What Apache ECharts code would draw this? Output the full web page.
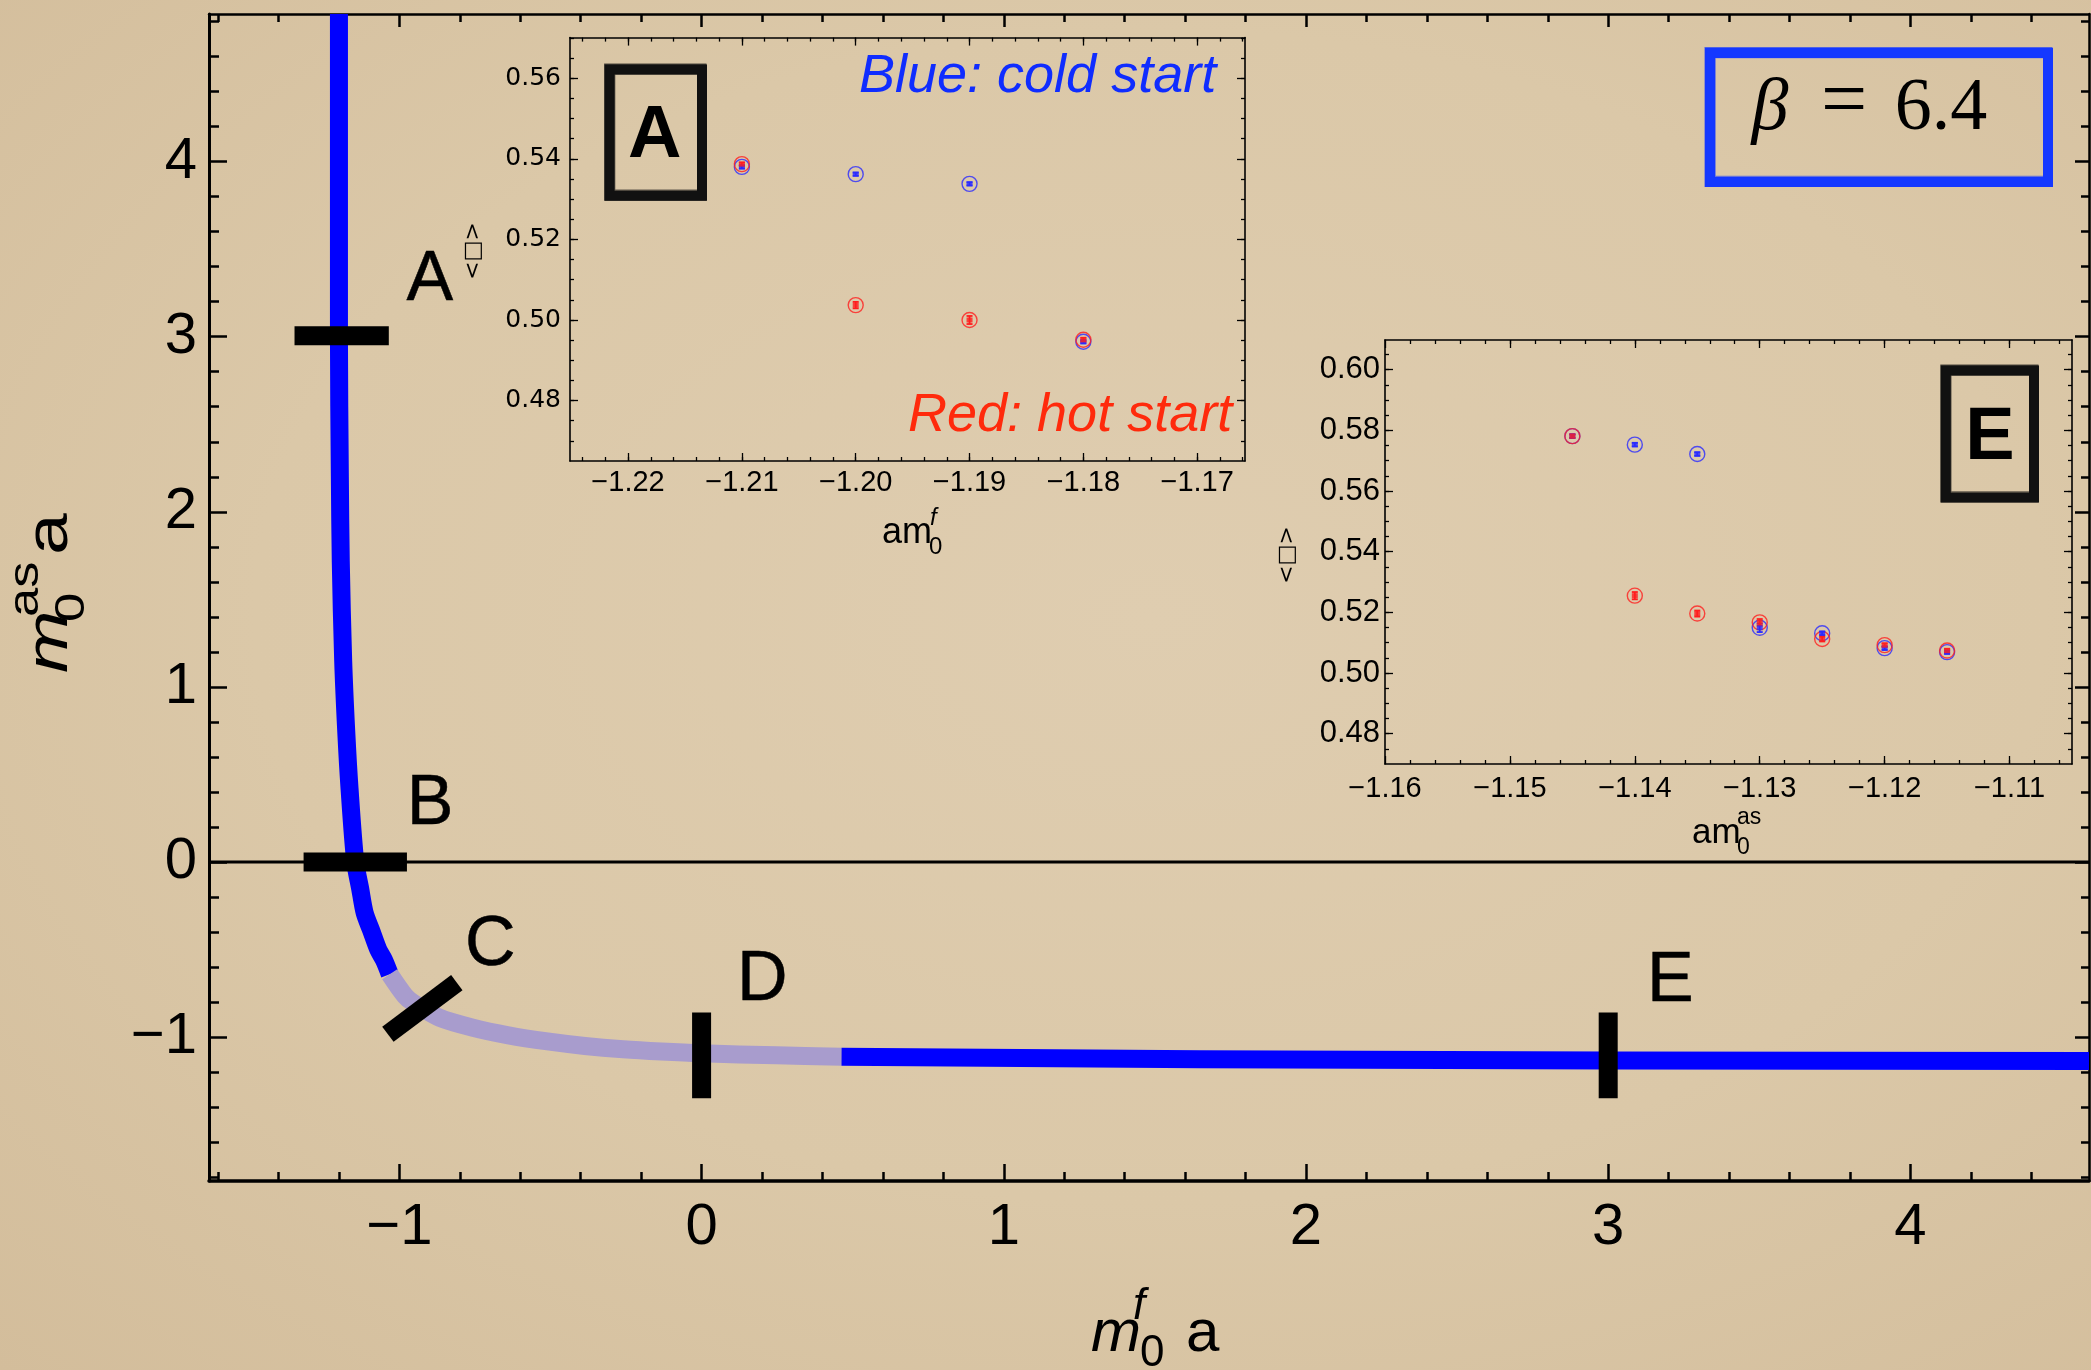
<!DOCTYPE html>
<html>
<head>
<meta charset="utf-8">
<title>Phase diagram beta 6.4</title>
<script src="https://cdn.jsdelivr.net/npm/echarts@6/dist/echarts.min.js"></script>
<style>
html,body{margin:0;padding:0;overflow:hidden;}
#chart{width:2091px;height:1370px;background:radial-gradient(ellipse at 55% 45%, #dfcdb0 0%, #dbc8a8 55%, #d3bd9b 100%);}
</style>
</head>
<body>
<div id="chart"></div>
<script>
// ---------------- main plot data ----------------
const mainXTicks = [-1, 0, 1, 2, 3, 4];
const mainYTicks = [-1, 0, 1, 2, 3, 4];
const mainXRange = [-1.63, 4.591];
const mainYRange = [-1.822, 4.843];

const curveUpper = [[-1.200, 4.843], [-1.200, 4.0], [-1.200, 3.0], [-1.197, 2.2], [-1.194, 1.72], [-1.186, 1.15],
  [-1.176, 0.75], [-1.165, 0.42], [-1.146, 0.0], [-1.130, -0.15], [-1.115, -0.29], [-1.094, -0.388],
  [-1.070, -0.50], [-1.051, -0.56], [-1.032, -0.641]];
const curveMiddle = [[-1.032, -0.641], [-0.981, -0.765], [-0.952, -0.807], [-0.868, -0.889], [-0.760, -0.945],
  [-0.639, -0.990], [-0.510, -1.025], [-0.386, -1.051], [-0.260, -1.070], [-0.133, -1.083], [0.0, -1.093],
  [0.248, -1.104], [0.463, -1.112]];
const curveLower = [[0.463, -1.112], [1.649, -1.127], [3.0, -1.134], [4.591, -1.137]];
const zeroLine = [[-1.63, 0], [4.591, 0]];

const barA = [[-1.347, 3.006], [-1.035, 3.006]];
const barB = [[-1.317, 0.0], [-0.975, 0.0]];
const barC = [[-1.038, -0.984], [-0.810, -0.689]];
const barD = [[0.0, -0.86], [0.0, -1.35]];
const barE = [[3.0, -0.86], [3.0, -1.35]];
const pointNames = ['A', 'B', 'C', 'D', 'E'];
const pointLabelAt = [[-0.899, 3.321], [-0.898, 0.327], [-0.699, -0.479], [0.201, -0.678], [3.206, -0.684]];

// ---------------- inset A (m0^as = 3) ----------------
const insetAXTicks = [-1.22, -1.21, -1.20, -1.19, -1.18, -1.17];
const insetAYTicks = [0.48, 0.50, 0.52, 0.54, 0.56];
const insetAXRange = [-1.2251, -1.1658];
const insetAYRange = [0.465, 0.5701];
const insetAX = [-1.21, -1.20, -1.19, -1.18];
const insetACold = [0.5380, 0.5362, 0.5338, 0.4946];
const insetAColdErr = [0.0004, 0.0004, 0.0004, 0.0004];
const insetAHot = [0.5387, 0.5037, 0.5000, 0.4951];
const insetAHotErr = [0.0004, 0.0008, 0.0010, 0.0005];

// ---------------- inset E (m0^f = 3) ----------------
const insetEXTicks = [-1.16, -1.15, -1.14, -1.13, -1.12, -1.11];
const insetEYTicks = [0.48, 0.50, 0.52, 0.54, 0.56, 0.58, 0.60];
const insetEXRange = [-1.16, -1.105];
const insetEYRange = [0.47, 0.6098];
const insetEX = [-1.145, -1.14, -1.135, -1.13, -1.125, -1.12, -1.115];
const insetECold = [0.5781, 0.5753, 0.5722, 0.5149, 0.5131, 0.5082, 0.5069];
const insetEColdErr = [0.0006, 0.0006, 0.0006, 0.0014, 0.0006, 0.0006, 0.0006];
const insetEHot = [0.5781, 0.5255, 0.5196, 0.5167, 0.5112, 0.5092, 0.5074];
const insetEHotErr = [0.0006, 0.0012, 0.0010, 0.0011, 0.0008, 0.0006, 0.0006];

// ---------------- helpers ----------------
const SANS = '"Liberation Sans", Arial, Helvetica, sans-serif';
const SERIF = '"Liberation Serif", "DejaVu Serif", serif';
const BLUE = '#0000ff';
const LAV = '#a89ccd';
const COLD = '#2a2aff';
const HOT = '#ff1e1e';

function steps(range, step) {
  const out = [];
  const n0 = Math.ceil(range[0] / step - 1e-9), n1 = Math.floor(range[1] / step + 1e-9);
  for (let n = n0; n <= n1; n++) {
    const v = +(n * step).toFixed(6);
    if (v > range[0] + 1e-9 && v < range[1] - 1e-9) out.push(v);
  }
  return out;
}
const mainFmt = v => (v < 0 ? '\u2212' : '') + Math.abs(v);
const insetFmt = v => (v < 0 ? '\u2212' : '') + Math.abs(v).toFixed(2);

function frameAxes(dim, gridIndex, range, majors, minors, o) {
  const pos = dim === 'x' ? ['bottom', 'top'] : ['left', 'right'];
  const base = { type: 'value', gridIndex, min: range[0], max: range[1], splitLine: { show: false },
    axisPointer: { show: false }, silent: true };
  const tick = (len, vals) => ({ show: true, inside: true, length: len, customValues: vals,
    lineStyle: { color: '#000', width: o.tickW } });
  const line = w => ({ show: true, onZero: false, lineStyle: { color: '#000', width: w } });
  const noLine = { show: false, onZero: false };
  return [
    Object.assign({}, base, { position: pos[0], axisLine: line(o.lw[0]), axisTick: tick(o.major[0], majors),
      axisLabel: Object.assign({ show: true, customValues: majors, color: '#000' }, o.label) }),
    Object.assign({}, base, { position: pos[0], axisLine: noLine, axisTick: tick(o.minor[0], minors), axisLabel: { show: false } }),
    Object.assign({}, base, { position: pos[1], axisLine: line(o.lw[1]), axisTick: tick(o.major[1], majors), axisLabel: { show: false } }),
    Object.assign({}, base, { position: pos[1], axisLine: noLine, axisTick: tick(o.minor[1], minors), axisLabel: { show: false } })
  ];
}

function curve(data, color, smooth) {
  return { type: 'line', xAxisIndex: 0, yAxisIndex: 0, data, symbol: 'none', smooth: smooth,
    lineStyle: { color, width: 18, cap: 'butt', join: 'round' }, silent: true, z: 3 };
}
function bar(data) {
  return { type: 'line', xAxisIndex: 0, yAxisIndex: 0, data, symbol: 'none',
    lineStyle: { color: '#000', width: 19, cap: 'butt' }, silent: true, z: 4 };
}
function insetSeries(g, xs, ys, errs, color) {
  const pts = xs.map((x, i) => [x, ys[i]]);
  const errPts = xs.map((x, i) => [x, ys[i], errs[i]]);
  return [
    { type: 'scatter', xAxisIndex: 4 * g, yAxisIndex: 4 * g, data: pts, symbol: 'circle', symbolSize: 15,
      itemStyle: { color: 'rgba(0,0,0,0)', borderColor: color, borderWidth: 1.4 }, silent: true, z: 3 },
    { type: 'custom', xAxisIndex: 4 * g, yAxisIndex: 4 * g, data: errPts, silent: true, z: 4,
      renderItem: function (params, api) {
        const x = api.value(0), y = api.value(1), e = api.value(2);
        const t = api.coord([x, y + e]), b = api.coord([x, y - e]);
        const st = { stroke: color, lineWidth: 1.8 };
        return { type: 'group', children: [
          { type: 'line', shape: { x1: t[0], y1: t[1], x2: b[0], y2: b[1] }, style: st },
          { type: 'line', shape: { x1: t[0] - 3, y1: t[1], x2: t[0] + 3, y2: t[1] }, style: st },
          { type: 'line', shape: { x1: b[0] - 3, y1: b[1], x2: b[0] + 3, y2: b[1] }, style: st }
        ] };
      } },
    { type: 'scatter', xAxisIndex: 4 * g, yAxisIndex: 4 * g, data: pts, symbol: 'rect', symbolSize: [6, 5],
      itemStyle: { color }, silent: true, z: 5 }
  ];
}

// text helper: x = left edge (or per align), baseline y
function txt(text, x, baseline, size, extra) {
  return Object.assign({ type: 'text', x: x, y: baseline - 0.35 * size, silent: true,
    style: Object.assign({ text, fontSize: size, fontFamily: SANS, fill: '#000', align: 'left', verticalAlign: 'middle' },
      extra || {}) });
}
function roughBox(x, y, w, h, color, lw) {
  return [
    { type: 'rect', shape: { x, y, width: w, height: h }, style: { fill: 'none', stroke: color, lineWidth: lw }, silent: true },
    { type: 'rect', shape: { x: x - lw * 0.45, y: y - lw * 0.5, width: w + lw * 0.8, height: h + lw * 0.9 },
      style: { fill: 'none', stroke: color, lineWidth: 2, opacity: 0.7 }, silent: true },
    { type: 'rect', shape: { x: x + lw * 0.5, y: y + lw * 0.45, width: w - lw * 0.9, height: h - lw * 1.0 },
      style: { fill: 'none', stroke: color, lineWidth: 1.5, opacity: 0.6 }, silent: true }
  ];
}

// ---------------- axes ----------------
const mainOpts = { lw: [3.5, 2.5], tickW: 2.5, major: [17, 13], minor: [9, 8] };
const xAxes = [].concat(
  frameAxes('x', 0, mainXRange, mainXTicks, steps(mainXRange, 0.2),
    Object.assign({}, mainOpts, { label: { fontSize: 58, fontFamily: SANS, margin: 18, formatter: mainFmt } })),
  frameAxes('x', 1, insetAXRange, insetAXTicks, steps(insetAXRange, 0.002),
    { lw: [1.6, 1.6], tickW: 1.3, major: [8, 8], minor: [4, 4], label: { fontSize: 29, fontFamily: SANS, margin: 7, formatter: insetFmt } }),
  frameAxes('x', 2, insetEXRange, insetEXTicks, steps(insetEXRange, 0.002),
    { lw: [1.6, 1.6], tickW: 1.3, major: [8, 8], minor: [4, 4], label: { fontSize: 29, fontFamily: SANS, margin: 10, formatter: insetFmt } })
);
const yAxes = [].concat(
  frameAxes('y', 0, mainYRange, mainYTicks, steps(mainYRange, 0.2),
    Object.assign({}, mainOpts, { lw: [3, 2.5], major: [18, 14], minor: [10, 8], label: { fontSize: 58, fontFamily: SANS, margin: 12, formatter: mainFmt } })),
  frameAxes('y', 1, insetAYRange, insetAYTicks, steps(insetAYRange, 0.005),
    { lw: [1.6, 1.6], tickW: 1.3, major: [8, 8], minor: [4, 4], label: { fontSize: 25, fontFamily: '"DejaVu Sans", sans-serif', margin: 9, formatter: insetFmt } }),
  frameAxes('y', 2, insetEYRange, insetEYTicks, steps(insetEYRange, 0.005),
    { lw: [1.6, 1.6], tickW: 1.3, major: [8, 8], minor: [4, 4], label: { fontSize: 31, fontFamily: SANS, margin: 5, formatter: insetFmt } })
);

// ---------------- series ----------------
const series = [
  { type: 'line', xAxisIndex: 0, yAxisIndex: 0, data: zeroLine, symbol: 'none', lineStyle: { color: '#000', width: 3 }, silent: true, z: 2 },
  curve(curveUpper, BLUE, 0.3),
  curve(curveMiddle, LAV, 0.3),
  curve(curveLower, BLUE, false),
  bar(barA), bar(barB), bar(barC), bar(barD), bar(barE),
  { type: 'scatter', xAxisIndex: 0, yAxisIndex: 0, symbolSize: 1, itemStyle: { color: 'rgba(0,0,0,0)' }, silent: true, z: 6,
    data: pointLabelAt.map((p, i) => ({ name: pointNames[i], value: p })),
    label: { show: true, position: 'inside', formatter: '{b}', fontSize: 70, fontFamily: SANS, color: '#000',
      textBorderColor: '#000', textBorderWidth: 0.5, opacity: 1 } }
].concat(
  insetSeries(1, insetAX, insetACold, insetAColdErr, COLD),
  insetSeries(1, insetAX, insetAHot, insetAHotErr, HOT),
  insetSeries(2, insetEX, insetECold, insetEColdErr, COLD),
  insetSeries(2, insetEX, insetEHot, insetEHotErr, HOT)
);

// ---------------- annotations ----------------
const graphics = [].concat(
  // main x-axis name  m_0^f a
  [txt('m', 1091, 1355, 60, { fontStyle: 'italic' }),
   txt('f', 1133, 1322, 44, { fontStyle: 'italic' }),
   txt('0', 1140, 1369, 44),
   txt('a', 1186, 1355, 60)],
  // main y-axis name  m_0^as a (rotated)
  [{ type: 'group', x: 71.7, y: 673, rotation: Math.PI / 2, scaleX: 1.25, silent: true, children: [
     txt('m', 0, 0, 60, { fontStyle: 'italic' }),
     txt('0', 40.8, 15, 42),
     txt('as', 44.8, -31, 42),
     txt('a', 94.4, 0, 60)
  ] }],
  // inset A labels
  roughBox(609.6, 69.5, 92.4, 126.2, '#111', 10),
  [txt('A', 654.6, 162.5, 74, { fontWeight: 'bold', align: 'center' }),
   txt('Blue: cold start', 859, 95.5, 54, { fontStyle: 'italic', fill: '#0f2cff' }),
   txt('Red: hot start', 908, 435, 54, { fontStyle: 'italic', fill: '#ff2a0c' }),
   txt('am', 882, 545.5, 36),
   txt('f', 930, 527, 24, { fontStyle: 'italic' }),
   txt('0', 929, 556, 24),
   { type: 'text', x: 473, y: 251, rotation: Math.PI / 2, silent: true,
     style: { text: '<\u25A1>', fontSize: 22, fontFamily: '"DejaVu Sans", sans-serif', fill: '#000', align: 'center', verticalAlign: 'middle' } }],
  // inset E labels
  roughBox(1945.8, 370.5, 88.2, 126.9, '#111', 10),
  [txt('E', 1990, 464.5, 74, { fontWeight: 'bold', align: 'center' }),
   txt('am', 1692, 845.6, 35),
   txt('as', 1737, 825.5, 23),
   txt('0', 1737, 856, 23),
   { type: 'text', x: 1287, y: 555, rotation: Math.PI / 2, silent: true,
     style: { text: '<\u25A1>', fontSize: 22, fontFamily: '"DejaVu Sans", sans-serif', fill: '#000', align: 'center', verticalAlign: 'middle' } }],
  // beta box
  roughBox(1710, 53, 338, 129, '#1438ff', 10),
  [txt('\u03B2', 1770, 135, 74, { fontStyle: 'italic', fontFamily: SERIF, align: 'center' }),
   txt('=', 1844, 133, 82, { fontFamily: SERIF, align: 'center' }),
   txt('6.4', 1941, 135, 74, { fontFamily: SERIF, align: 'center' })]
);

const chart = echarts.init(document.getElementById('chart'), null, { renderer: 'canvas' });
chart.setOption({
  backgroundColor: 'transparent',
  animation: false,
  grid: [
    { left: 209, top: 14, width: 1880, height: 1167 },
    { left: 570, top: 37.6, width: 675, height: 423.4 },
    { left: 1385, top: 340, width: 687, height: 424 }
  ],
  xAxis: xAxes,
  yAxis: yAxes,
  series: series,
  graphic: { elements: graphics }
});
</script>
</body>
</html>
